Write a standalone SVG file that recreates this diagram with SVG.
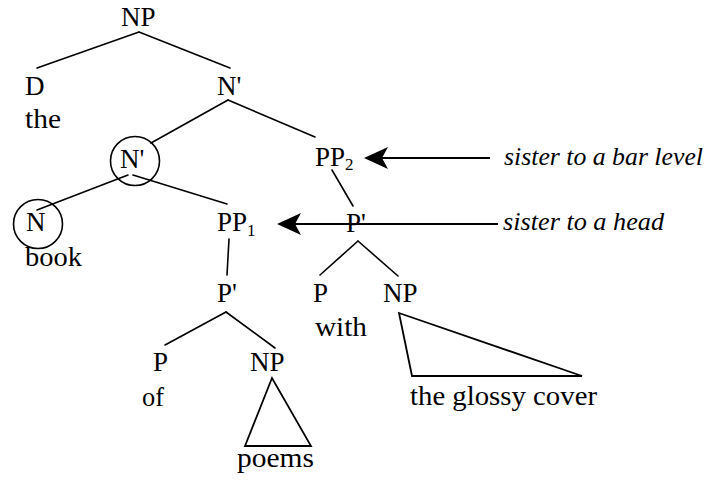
<svg xmlns="http://www.w3.org/2000/svg" width="710" height="484" viewBox="0 0 710 484">
<style>
text{font-family:"Liberation Serif","Times New Roman",serif;font-size:27px;fill:#000}
.sub{font-size:17px}
.it{font-style:italic;font-size:26px}
.edge{stroke:#000;stroke-width:1.6;fill:none;stroke-linecap:round}
.arrow{stroke:#000;stroke-width:2;fill:none}
.ring{stroke:#000;stroke-width:1.6;fill:none}
.tri{stroke:#000;stroke-width:1.8;fill:none;stroke-linejoin:miter}
</style>
<defs>
<marker id="ah" markerUnits="userSpaceOnUse" markerWidth="26" markerHeight="24" refX="22" refY="12" orient="auto">
<path d="M24,12 L0,1 L6,12 L0,23 Z" fill="#000"/>
</marker>
</defs>
<rect width="710" height="484" fill="#fff"/>
<g id="connectors">
<line class="edge" x1="139" y1="32" x2="37" y2="68"/>
<line class="edge" x1="139" y1="32" x2="230" y2="68"/>
<line class="edge" x1="228" y1="100" x2="151" y2="143"/>
<line class="edge" x1="228" y1="100" x2="315" y2="137"/>
<line class="edge" x1="128" y1="175" x2="37" y2="210"/>
<line class="edge" x1="133" y1="175" x2="227" y2="204"/>
<line class="edge" x1="332" y1="170" x2="353" y2="206"/>
<line class="edge" x1="358" y1="241" x2="320" y2="275"/>
<line class="edge" x1="358" y1="241" x2="398" y2="276"/>
<line class="edge" x1="229" y1="239" x2="227" y2="275"/>
<line class="edge" x1="226" y1="312" x2="165" y2="345"/>
<line class="edge" x1="226" y1="312" x2="275" y2="348"/>
<line class="arrow" x1="490" y1="158" x2="366" y2="158" marker-end="url(#ah)"/>
<line class="arrow" x1="498" y1="224" x2="279" y2="224" marker-end="url(#ah)"/>
</g>
<g id="np-top"><text x="121" y="26">NP</text></g>
<g id="d"><text x="25" y="95">D</text><text x="25" y="128" textLength="36" lengthAdjust="spacingAndGlyphs">the</text></g>
<g id="nbar-top"><text x="217" y="95">N'</text></g>
<g id="nbar-circled"><circle class="ring" cx="135" cy="161" r="24.5"/><text x="120" y="168">N'</text></g>
<g id="pp2"><text x="315" y="166">PP<tspan class="sub" dy="4">2</tspan></text></g>
<g id="n"><circle class="ring" cx="38" cy="224" r="24.5"/><text x="26" y="231">N</text><text x="25" y="266" textLength="57" lengthAdjust="spacingAndGlyphs">book</text></g>
<g id="pp1"><text x="217" y="231">PP<tspan class="sub" dy="5">1</tspan></text></g>
<g id="pbar2"><text x="346" y="232">P'</text></g>
<g id="p-with"><text x="313" y="302">P</text><text x="315" y="336" textLength="52" lengthAdjust="spacingAndGlyphs">with</text></g>
<g id="np-cover"><text x="383" y="302">NP</text><polygon class="tri" points="399,313 412,376 582,376"/><text x="410" y="405" textLength="187" lengthAdjust="spacingAndGlyphs">the glossy cover</text></g>
<g id="pbar1"><text x="217" y="302">P'</text></g>
<g id="p-of"><text x="153" y="371">P</text><text x="142" y="406" textLength="22" lengthAdjust="spacingAndGlyphs">of</text></g>
<g id="np-poems"><text x="250" y="371">NP</text><polygon class="tri" points="272,378 245,446 311,446"/><text x="237" y="467" textLength="77" lengthAdjust="spacingAndGlyphs">poems</text></g>
<g id="note-bar"><text class="it" x="504" y="165" textLength="199" lengthAdjust="spacingAndGlyphs">sister to a bar level</text></g>
<g id="note-head"><text class="it" x="503" y="230" textLength="161" lengthAdjust="spacingAndGlyphs">sister to a head</text></g>
</svg>
